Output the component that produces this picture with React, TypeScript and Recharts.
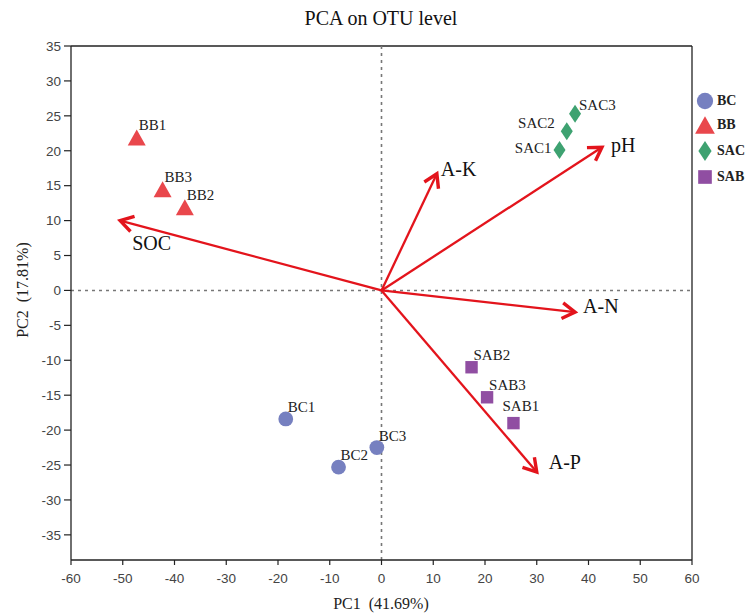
import { ReferenceLine, Scatter, ScatterChart, XAxis, YAxis } from "recharts";

// sample scores
const bcNames = ["BC1", "BC2", "BC3"];
const bcPC1 = [-18.5, -8.3, -0.9];
const bcPC2 = [-18.4, -25.3, -22.5];

const bbNames = ["BB1", "BB2", "BB3"];
const bbPC1 = [-47.3, -38.0, -42.3];
const bbPC2 = [21.9, 11.9, 14.5];

const sacNames = ["SAC1", "SAC2", "SAC3"];
const sacPC1 = [34.4, 35.8, 37.4];
const sacPC2 = [20.1, 22.8, 25.3];

const sabNames = ["SAB1", "SAB2", "SAB3"];
const sabPC1 = [25.5, 17.4, 20.4];
const sabPC2 = [-19.0, -11.0, -15.3];

// environmental factor loadings (arrows)
const envNames = ["SOC", "A-K", "pH", "A-N", "A-P"];
const envPC1 = [-50.5, 10.7, 42.6, 37.4, 30.0];
const envPC2 = [10.0, 16.7, 20.5, -3.1, -26.0];

const xTicks = [-60, -50, -40, -30, -20, -10, 0, 10, 20, 30, 40, 50, 60];
const yTicks = [-35, -30, -25, -20, -15, -10, -5, 0, 5, 10, 15, 20, 25, 30, 35];

const SERIF = "'Liberation Serif', 'Times New Roman', serif";
const SANS = "'Liberation Sans', Arial, sans-serif";
const ARROW_RED = "#e3141c";

const groups = [
  { key: "BC", names: bcNames, xs: bcPC1, ys: bcPC2, color: "#7680c0", shape: "circle" },
  { key: "BB", names: bbNames, xs: bbPC1, ys: bbPC2, color: "#e9474c", shape: "triangle" },
  { key: "SAC", names: sacNames, xs: sacPC1, ys: sacPC2, color: "#3ea271", shape: "diamond" },
  { key: "SAB", names: sabNames, xs: sabPC1, ys: sabPC2, color: "#904ea2", shape: "square" },
];

// label offsets (px) where the default up-right placement doesn't fit
const labelNudge: Record<string, { dx: number; dy: number; anchor?: "start" | "end" }> = {
  SAB1: { dx: -11, dy: -12 },
  SAC1: { dx: -8, dy: 3, anchor: "end" },
  SAC2: { dx: -12, dy: -3, anchor: "end" },
  SAC3: { dx: 4, dy: -4 },
};

const arrowLabelNudge: Record<string, { dx: number; dy: number }> = {
  SOC: { dx: 12, dy: 22 },
  "A-K": { dx: 4, dy: -5 },
  pH: { dx: 9, dy: -2 },
  "A-N": { dx: 8, dy: -6 },
  "A-P": { dx: 12, dy: -10 },
};

function Marker({ shape, cx, cy, color, s = 1 }: { shape: string; cx: number; cy: number; color: string; s?: number }) {
  if (shape === "circle") return <circle cx={cx} cy={cy} r={7.4 * s} fill={color} />;
  if (shape === "triangle") {
    const w = 9 * s, h = 8 * s;
    return <polygon points={`${cx},${cy - h} ${cx + w},${cy + h} ${cx - w},${cy + h}`} fill={color} />;
  }
  if (shape === "diamond") {
    const w = 6 * s, h = 9 * s;
    return <polygon points={`${cx},${cy - h} ${cx + w},${cy} ${cx},${cy + h} ${cx - w},${cy}`} fill={color} />;
  }
  const a = 6.2 * s;
  return <rect x={cx - a} y={cy - a} width={a * 2} height={a * 2} fill={color} />;
}

function pointShape(shape: string, color: string) {
  return (props: any) => {
    const { cx, cy, payload } = props;
    const n = labelNudge[payload.name] ?? { dx: 2, dy: -7 };
    return (
      <g>
        <Marker shape={shape} cx={cx} cy={cy} color={color} />
        <text x={cx + n.dx} y={cy + n.dy} textAnchor={n.anchor ?? "start"} fontFamily={SERIF} fontSize={15} fill="#222">
          {payload.name}
        </text>
      </g>
    );
  };
}

function arrowShape(name: string) {
  return (props: any) => {
    const { x1, y1, x2, y2 } = props;
    // segment goes from origin (x1,y1) to loading tip (x2,y2)
    const ang = Math.atan2(y2 - y1, x2 - x1);
    const len = 15;
    const spread = 0.55;
    const ax = x2 - len * Math.cos(ang - spread);
    const ay = y2 - len * Math.sin(ang - spread);
    const bx = x2 - len * Math.cos(ang + spread);
    const by = y2 - len * Math.sin(ang + spread);
    const n = arrowLabelNudge[name];
    return (
      <g>
        <line x1={x1} y1={y1} x2={x2} y2={y2} stroke={ARROW_RED} strokeWidth={2.3} />
        <polyline points={`${ax},${ay} ${x2},${y2} ${bx},${by}`} fill="none" stroke={ARROW_RED} strokeWidth={3.4} strokeLinejoin="miter" />
        <text x={x2 + n.dx} y={y2 + n.dy} dominantBaseline="central" fontFamily={SERIF} fontSize={20} fill="#111">
          {name}
        </text>
      </g>
    );
  };
}

export default function App() {
  const series = groups.map((g) => ({
    ...g,
    data: g.names.map((name, i) => ({ name, x: g.xs[i], y: g.ys[i] })),
  }));

  return (
    <div style={{ position: "absolute", left: 0, top: 0, width: 745, height: 613, background: "#fff" }}>
      <ScatterChart width={745} height={613} margin={{ top: 46, right: 53, bottom: 0, left: 0 }}>
        <text x={381} y={18} textAnchor="middle" dominantBaseline="central" fontFamily={SERIF} fontSize={20} fill="#111">
          PCA on OTU level
        </text>
        <XAxis
          type="number"
          dataKey="x"
          domain={[-60, 60]}
          ticks={xTicks}
          allowDataOverflow
          height={53}
          tickSize={5}
          tickMargin={8}
          tick={{ fontFamily: SANS, fontSize: 13.5, fill: "#444" }}
          axisLine={{ stroke: "#222", strokeWidth: 1.3 }}
          tickLine={{ stroke: "#222", strokeWidth: 1.2 }}
          label={{
            content: () => (
              <text x={381} y={603} textAnchor="middle" dominantBaseline="central" fontFamily={SERIF} fontSize={16} fill="#222">
                {"PC1\u00a0\u00a0(41.69%)"}
              </text>
            ),
          }}
        />
        <YAxis
          type="number"
          dataKey="y"
          domain={[-38.6, 35]}
          ticks={yTicks}
          allowDataOverflow
          width={71}
          tickSize={7}
          tickMargin={3}
          tick={{ fontFamily: SANS, fontSize: 13.5, fill: "#444" }}
          axisLine={{ stroke: "#222", strokeWidth: 1.3 }}
          tickLine={{ stroke: "#222", strokeWidth: 1.2 }}
          label={{
            content: () => (
              <text
                x={22}
                y={290}
                transform="rotate(-90 22 290)"
                textAnchor="middle"
                dominantBaseline="central"
                fontFamily={SERIF}
                fontSize={16}
                fill="#222"
              >
                {"PC2\u00a0\u00a0(17.81%)"}
              </text>
            ),
          }}
        />
        <ReferenceLine y={35} stroke="#222" strokeWidth={1.3} />
        <ReferenceLine x={60} stroke="#222" strokeWidth={1.3} />
        <ReferenceLine x={0} stroke="#777" strokeWidth={1.6} strokeDasharray="3 4" />
        <ReferenceLine y={0} stroke="#777" strokeWidth={1.6} strokeDasharray="3 4" />
        {envNames.map((name, i) => (
          <ReferenceLine
            key={name}
            segment={[
              { x: 0, y: 0 },
              { x: envPC1[i], y: envPC2[i] },
            ]}
            shape={arrowShape(name)}
          />
        ))}
        {series.map((g) => (
          <Scatter key={g.key} name={g.key} data={g.data} fill={g.color} shape={pointShape(g.shape, g.color)} isAnimationActive={false} />
        ))}
      </ScatterChart>
      {/* legend on the right, outside the frame */}
      <div style={{ position: "absolute", left: 694, top: 90 }}>
        {series.map((g, i) => (
          <div key={g.key} style={{ position: "absolute", left: 0, top: [0, 24, 50, 76][i], height: 22, display: "flex", alignItems: "center" }}>
            <svg width={22} height={22}>
              <Marker shape={g.shape} cx={11} cy={11} color={g.color} s={1.1} />
            </svg>
            <span style={{ fontFamily: SERIF, fontSize: 14, fontWeight: 600, color: "#222", marginLeft: 1, whiteSpace: "nowrap" }}>{g.key}</span>
          </div>
        ))}
      </div>
    </div>
  );
}
